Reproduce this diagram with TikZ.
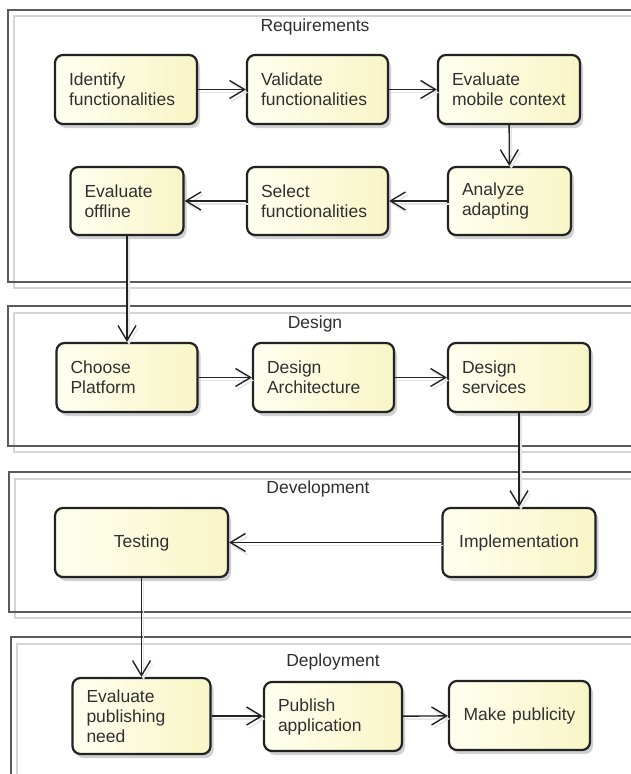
\documentclass[tikz,border=0pt]{standalone}
\usepackage{fontspec}
\setmainfont{Liberation Sans}
\usetikzlibrary{arrows.meta,shadows}
\definecolor{boxline}{HTML}{222222}
\definecolor{txt}{HTML}{303030}
\definecolor{frameline}{HTML}{5A5A5A}
\definecolor{frameshadow}{HTML}{D4D4D4}
\definecolor{boxleft}{HTML}{FFFFF0}
\definecolor{boxright}{HTML}{F8F5C6}
\begin{document}
\begin{tikzpicture}[x=1pt,y=-1pt,
  every node/.style={font=\fontsize{17.5}{20}\selectfont, text=txt},
  actbox/.style={draw=boxline, line width=2.2pt, rounded corners=8pt,
    left color=boxleft, right color=boxright,
    drop shadow={shadow xshift=3pt, shadow yshift=-4pt, fill=black!30, opacity=0.6},
    inner xsep=14pt, inner ysep=0pt, align=left},
  ctrbox/.style={actbox, align=center},
  conn/.style={draw=boxline, line width=1.4pt, -{Straight Barb[length=15pt,width=18pt,line width=1.4pt]},
    preaction={draw=black!10, line width=1.5pt, transform canvas={shift={(2pt,-3pt)}}}},
  frame/.style={draw=frameline, line width=1.5pt},
  frameshade/.style={draw=frameshadow, line width=2pt},
  ftitle/.style={anchor=base}
]
\useasboundingbox (0,0) rectangle (631,774);
\fill[white] (0,0) rectangle (631,774);

% frames
\draw[frameshade] (14,16) rectangle (660,288);
\draw[frame] (8,10) rectangle (660,282);
\draw[frameshade] (14,313) rectangle (660,452);
\draw[frame] (8,306) rectangle (660,446);
\draw[frameshade] (15,479) rectangle (660,618);
\draw[frame] (9,472) rectangle (660,612);
\draw[frameshade] (17,644) rectangle (660,800);
\draw[frame] (11,637) rectangle (660,800);

\node[ftitle] (treq) at (315,31) {Requirements};
\node[ftitle] (tdes) at (315,328) {Design};
\node[ftitle] (tdev) at (318,493) {Development};
\node[ftitle] (tdep) at (333,666) {Deployment};

% Requirements
\node[actbox, minimum width=142, minimum height=69, text width=114] (ident) at (126,89.5) {Identify\\functionalities};
\node[actbox, minimum width=141, minimum height=69, text width=113] (valid) at (317.5,89.5) {Validate\\functionalities};
\node[actbox, minimum width=142, minimum height=69, text width=114] (evalmob) at (509,89.5) {Evaluate\\mobile context};
\node[actbox, minimum width=123, minimum height=68, text width=95] (analyze) at (509.5,201) {Analyze\\adapting};
\node[actbox, minimum width=141, minimum height=68, text width=113] (select) at (317.5,201) {Select\\functionalities};
\node[actbox, minimum width=113, minimum height=68, text width=85] (evaloff) at (127,201) {Evaluate\\offline};

% Design
\node[actbox, minimum width=141, minimum height=69, text width=113] (choose) at (127,377.5) {Choose\\Platform};
\node[actbox, minimum width=141, minimum height=69, text width=113] (darch) at (323.5,377.5) {Design\\Architecture};
\node[actbox, minimum width=142, minimum height=69, text width=114] (dserv) at (519,377.5) {Design\\services};

% Development
\node[ctrbox, minimum width=153, minimum height=69, text width=125] (impl) at (519,542.5) {Implementation};
\node[ctrbox, minimum width=173, minimum height=69, text width=145] (testing) at (141.5,542.5) {Testing};

% Deployment
\node[actbox, minimum width=138, minimum height=76, text width=110] (evalpub) at (141.5,716) {Evaluate\\publishing\\need};
\node[actbox, minimum width=138, minimum height=69, text width=110] (publish) at (333,716.5) {Publish\\application};
\node[ctrbox, minimum width=141, minimum height=69, text width=113] (makepub) at (519.5,715.5) {Make publicity};

% connectors
\draw[conn] (ident) -- (valid);
\draw[conn] (valid) -- (evalmob);
\draw[conn] (evalmob) -- (analyze);
\draw[conn] (analyze) -- (select);
\draw[conn] (select) -- (evaloff);
\draw[conn] (evaloff) -- (choose);
\draw[conn] (choose) -- (darch);
\draw[conn] (darch) -- (dserv);
\draw[conn] (dserv) -- (impl);
\draw[conn] (impl) -- (testing);
\draw[conn] (testing) -- (evalpub);
\draw[conn] (evalpub.east) -- (publish.west |- evalpub.east);
\draw[conn] (publish) -- (makepub);
\end{tikzpicture}
\end{document}
